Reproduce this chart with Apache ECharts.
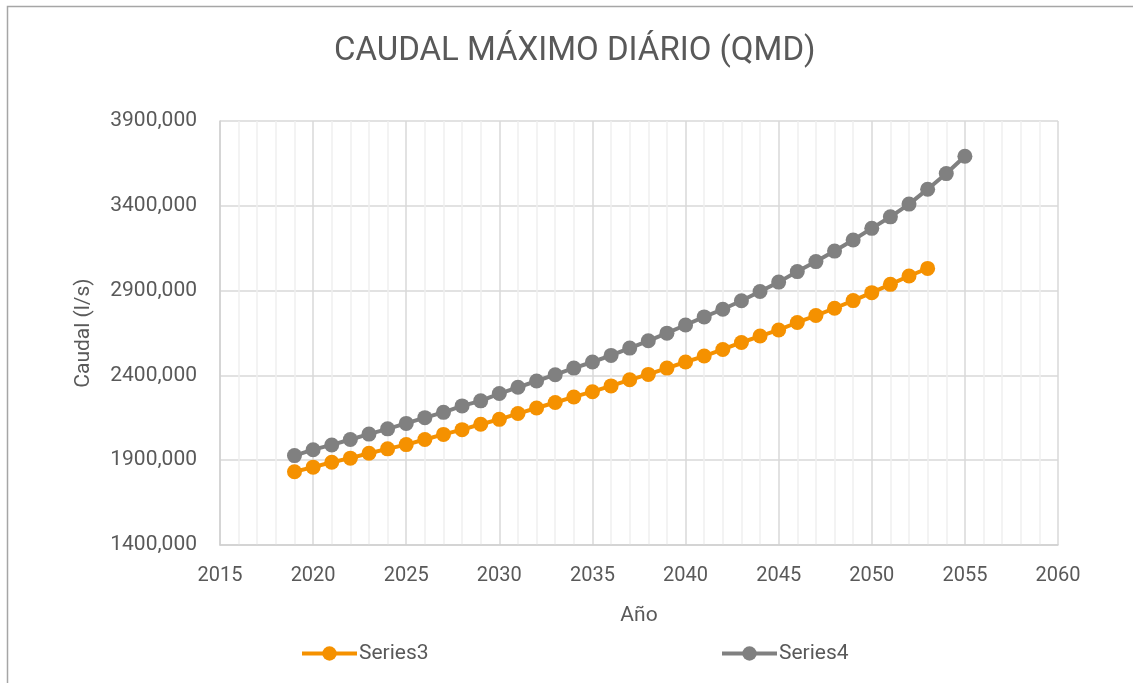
<!DOCTYPE html>
<html>
<head>
<meta charset="utf-8">
<script src="https://cdn.jsdelivr.net/npm/echarts@6/dist/echarts.min.js"></script>
<style>
html,body{margin:0;padding:0;background:#fff;}
#chart{width:1133px;height:683px;}
</style>
</head>
<body>
<div id="chart"></div>
<script>
const titleText = 'CAUDAL MÁXIMO DIÁRIO (QMD)';
const xAxisName = 'Año';
const yAxisName = 'Caudal (l/s)';
const yTicks = [1400, 1900, 2400, 2900, 3400, 3900];

const years3 = [2019,2020,2021,2022,2023,2024,2025,2026,2027,2028,2029,2030,2031,2032,2033,2034,2035,2036,2037,2038,2039,2040,2041,2042,2043,2044,2045,2046,2047,2048,2049,2050,2051,2052,2053];
const series3 = [1832,1859,1888,1912,1941,1967,1992,2022,2052,2080,2112,2141,2175,2208,2240,2273,2304,2338,2374,2406,2443,2479,2514,2553,2594,2632,2668,2712,2753,2796,2841,2888,2937,2986,3031];

const years4 = [2019,2020,2021,2022,2023,2024,2025,2026,2027,2028,2029,2030,2031,2032,2033,2034,2035,2036,2037,2038,2039,2040,2041,2042,2043,2044,2045,2046,2047,2048,2049,2050,2051,2052,2053,2054,2055];
const series4 = [1927,1962,1990,2022,2054,2085,2117,2151,2182,2220,2250,2293,2330,2367,2404,2443,2479,2518,2561,2604,2649,2697,2745,2790,2840,2895,2950,3012,3071,3133,3198,3267,3335,3410,3498,3590,3692];

const FONT = 'Roboto, "Open Sans", sans-serif';
const TXT = '#595959';

const chart = echarts.init(document.getElementById('chart'), null, {renderer: 'canvas'});
chart.setOption({
  backgroundColor: '#ffffff',
  animation: false,
  graphic: [{
    type: 'rect', silent: true, z: -1,
    shape: {x: 7.5, y: 6.5, width: 1140, height: 700},
    style: {fill: 'none', stroke: '#a6a6a6', lineWidth: 1.5}
  }],
  title: {
    text: titleText, left: 329, top: 30,
    textStyle: {fontFamily: FONT, fontSize: 33, fontWeight: 'normal', color: TXT}
  },
  legend: [{
    data: ['Series3'], left: 300, top: 643, padding: 0,
    itemWidth: 55, itemHeight: 18,
    lineStyle: {width: 4},
    textStyle: {fontFamily: FONT, fontSize: 21, color: TXT, padding: [0,0,0,-3]}
  }, {
    data: ['Series4'], left: 720, top: 643, padding: 0,
    itemWidth: 55, itemHeight: 18,
    lineStyle: {width: 4},
    textStyle: {fontFamily: FONT, fontSize: 21, color: TXT, padding: [0,0,0,-3]}
  }],
  grid: {left: 220, top: 121, width: 838, height: 424, containLabel: false},
  xAxis: {
    type: 'value', min: 2015, max: 2060, interval: 5,
    name: xAxisName, nameLocation: 'middle', nameGap: 60,
    nameTextStyle: {fontFamily: FONT, fontSize: 21, color: TXT},
    axisLine: {show: true, lineStyle: {color: '#d0d0d0', width: 1.5}},
    axisTick: {show: false},
    axisLabel: {fontFamily: FONT, fontSize: 20, color: TXT, margin: 21, formatter: v => String(v)},
    splitLine: {show: true, lineStyle: {color: '#d9d9d9', width: 1.5}},
    minorTick: {show: false, splitNumber: 5},
    minorSplitLine: {show: true, lineStyle: {color: '#f0f0f0', width: 1.5}}
  },
  yAxis: {
    type: 'value', min: 1400, max: 3900,
    name: yAxisName, nameLocation: 'middle', nameGap: 126,
    nameTextStyle: {fontFamily: FONT, fontSize: 21, color: TXT},
    axisLine: {show: true, lineStyle: {color: '#d0d0d0', width: 1.5}},
    axisTick: {show: false, customValues: yTicks},
    axisLabel: {fontFamily: FONT, fontSize: 21, color: TXT, margin: 23, customValues: yTicks,
      formatter: v => v + ',000'},
    splitLine: {show: true, lineStyle: {color: '#d9d9d9', width: 1.5}}
  },
  series: [{
    name: 'Series3', type: 'line',
    data: years3.map((y, i) => [y, series3[i]]),
    symbol: 'circle', symbolSize: 15,
    itemStyle: {color: '#f59100'},
    lineStyle: {color: '#f59100', width: 4}
  }, {
    name: 'Series4', type: 'line',
    data: years4.map((y, i) => [y, series4[i]]),
    symbol: 'circle', symbolSize: 15,
    itemStyle: {color: '#808080'},
    lineStyle: {color: '#808080', width: 4}
  }]
});
</script>
</body>
</html>
